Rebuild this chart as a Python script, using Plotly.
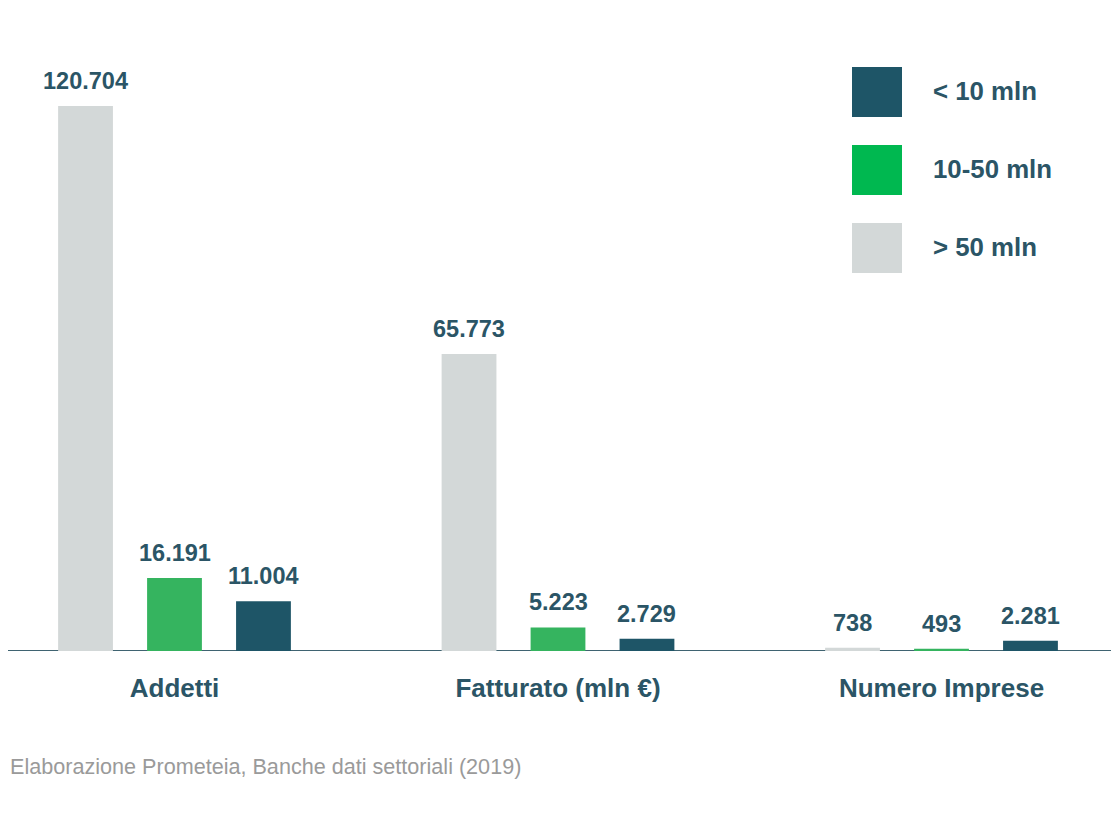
import plotly.graph_objects as go

categories = ["Addetti", "Fatturato (mln €)", "Numero Imprese"]
series_names = ["> 50 mln", "10-50 mln", "< 10 mln"]
over_50 = [120704, 65773, 738]
mid_10_50 = [16191, 5223, 493]
under_10 = [11004, 2729, 2281]
source_note = "Elaborazione Prometeia, Banche dati settoriali (2019)"

bar_colors = ["#D3D8D8", "#35B45F", "#1E5567"]
legend_colors = ["#D3D8D8", "#00B850", "#1E5567"]
text_color = "#2B5566"
FONT = "Liberation Sans, Arial, sans-serif"

W, H = 1119, 826
PAGE_OFF = 8
ML, MR, MT, MB = 0, 2, 32, 183
plot_h = H - MT - MB
plot_w = W - ML - MR

series = [over_50, mid_10_50, under_10]

fig = go.Figure()
for name, vals, col in zip(series_names, series, bar_colors):
    fig.add_trace(go.Bar(x=categories, y=vals, name=name, marker_color=col,
                         marker_line_width=0, showlegend=False))

bargap = 0.304
slot = (1 - bargap) / 3
annotations = []
for si, vals in enumerate(series):
    off = (si - 1) * slot
    for ci, v in enumerate(vals):
        annotations.append(dict(
            x=ci + off, y=v, xref="x", yref="y",
            text="<b>" + f"{v:,}".replace(",", ".") + "</b>",
            showarrow=False, yanchor="bottom", yshift=10,
            font=dict(family=FONT, size=23.5, color=text_color)))


def px_x(p):
    return (p - PAGE_OFF - ML) / plot_w


def px_y(p):
    return (H - MB - (p - PAGE_OFF)) / plot_h


legend_rows = [(2, 67), (1, 145), (0, 223)]
shapes = []
for si, top in legend_rows:
    shapes.append(dict(type="rect", xref="paper", yref="paper",
                       x0=px_x(852), x1=px_x(902), y0=px_y(top + 50), y1=px_y(top),
                       fillcolor=legend_colors[si], line_width=0))
    annotations.append(dict(x=px_x(931), y=px_y(top + 24), xref="paper", yref="paper",
                            text="<b>" + series_names[si] + "</b>", showarrow=False,
                            xanchor="left", yanchor="middle",
                            font=dict(family=FONT, size=25.8, color=text_color)))

# baseline
shapes.append(dict(type="line", xref="paper", yref="y", x0=0, x1=px_x(1119),
                   y0=0, y1=0, line=dict(color="#3F6371", width=2), layer="below"))

annotations.append(dict(x=px_x(8), y=px_y(766), xref="paper", yref="paper",
                        text=source_note, showarrow=False, xanchor="left", yanchor="middle",
                        font=dict(family=FONT, size=21.6, color="#9A9A9A")))

ymax = 120704 * plot_h / 545
units = 383.5
x0 = -(174.5 - PAGE_OFF) / units

fig.update_layout(
    width=W, height=H,
    margin=dict(l=ML, r=MR, t=MT, b=MB),
    paper_bgcolor="white", plot_bgcolor="white",
    barmode="group", bargap=bargap, bargroupgap=0.384,
    shapes=shapes, annotations=annotations,
    showlegend=False,
    xaxis=dict(range=[x0, x0 + plot_w / units], showline=False,
               ticks="", showgrid=False, zeroline=False, ticklabelstandoff=19,
               tickfont=dict(family=FONT, size=26, color=text_color)),
    yaxis=dict(range=[0, ymax], visible=False, showgrid=False, zeroline=False),
)
fig.update_xaxes(tickvals=categories, ticktext=["<b>" + c + "</b>" for c in categories])

fig.write_html("out.html")
